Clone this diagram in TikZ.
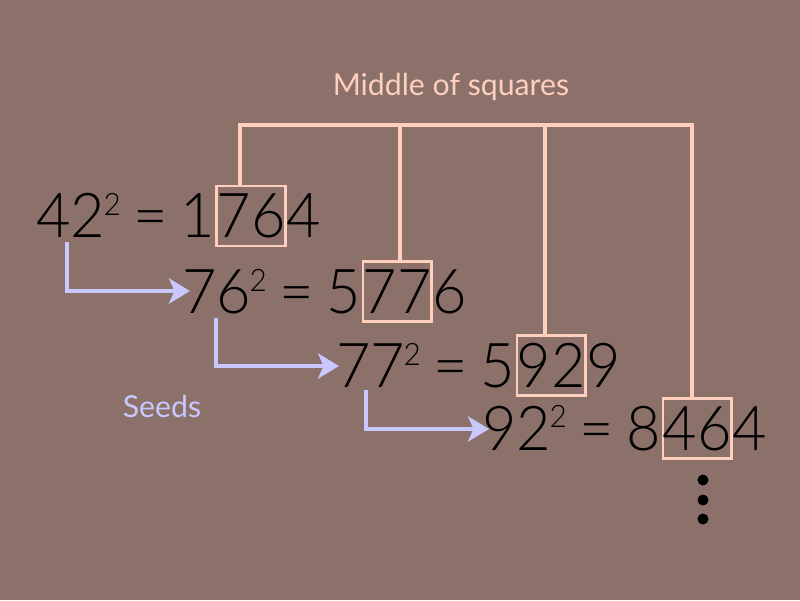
\documentclass[tikz,border=0pt]{standalone}
\usepackage{fontspec}
\setmainfont{Lato}
\newfontfamily\thinfont[FakeStretch=0.96]{Lato Light}
\usetikzlibrary{arrows.meta}

\definecolor{bgbrown}{RGB}{139,113,106}
\definecolor{peach}{RGB}{255,207,190}
\definecolor{lilac}{RGB}{200,200,255}

\newcommand{\sqr}{\kern-.02em\raisebox{.36em}{\fontsize{22}{22}\selectfont 2}\hspace{.2em}}
\newcommand{\eqs}{=\hspace{.21em}}

\begin{document}
\begin{tikzpicture}[x=0.025cm,y=-0.025cm,
  eq/.style={font=\thinfont\fontsize{44}{50}\selectfont,inner sep=0pt,text=black},
  mid/.style={eq,draw=peach,line width=1.5pt,minimum width=1.7cm,minimum height=1.5cm},
  peachline/.style={draw=peach,line width=2.4pt},
  seedline/.style={draw=lilac,line width=2.3pt,-{Stealth[length=15pt,width=18pt,inset=4pt]}},
  label/.style={font=\fontsize{21.5}{26}\selectfont,inner sep=0pt}]
\useasboundingbox (0,0) rectangle (800,600);
\fill[bgbrown] (0,0) rectangle (800,600);

% the squares, middle digits boxed
\node[mid] (m1) at (251,216) {76};
\node[eq,anchor=base east] (l1) at (m1.base west) {42\sqr\eqs1};
\node[eq,anchor=base west] (r1) at (m1.base east) {4};

\node[mid] (m2) at (397,291.5) {77};
\node[eq,anchor=base east] (l2) at (m2.base west) {76\sqr\eqs5};
\node[eq,anchor=base west] (r2) at (m2.base east) {6};

\node[mid] (m3) at (551,365.5) {92};
\node[eq,anchor=base east] (l3) at (m3.base west) {77\sqr\eqs5};
\node[eq,anchor=base west] (r3) at (m3.base east) {9};

\node[mid] (m4) at (697,428.5) {46};
\node[eq,anchor=base east] (l4) at (m4.base west) {92\sqr\eqs8};
\node[eq,anchor=base west] (r4) at (m4.base east) {4};

\foreach \y in {480,500,519}
  \fill (703,\y) circle[radius=5.5];

% middle of squares
\node[label,text=peach] (mos) at (451,87) {Middle of squares};
\coordinate (t1) at (240,125);
\coordinate (t2) at (400,125);
\coordinate (t3) at (545,125);
\coordinate (t4) at (692,125);
\draw[peachline] (t1 |- m1.north) -- (t1) -- (t4) -- (t4 |- m4.north);
\draw[peachline] (t2) -- (t2 |- m2.north);
\draw[peachline] (t3) -- (t3 |- m3.north);

% seeds
\node[label,text=lilac] (seeds) at (162,406) {Seeds};
\coordinate (s1) at (67,242);
\coordinate (e1) at (190,291);
\coordinate (s2) at (216,318);
\coordinate (e2) at (339,366);
\coordinate (s3) at (366,390);
\coordinate (e3) at (489,429);
\draw[seedline] (s1) |- (e1);
\draw[seedline] (s2) |- (e2);
\draw[seedline] (s3) |- (e3);
\end{tikzpicture}
\end{document}
